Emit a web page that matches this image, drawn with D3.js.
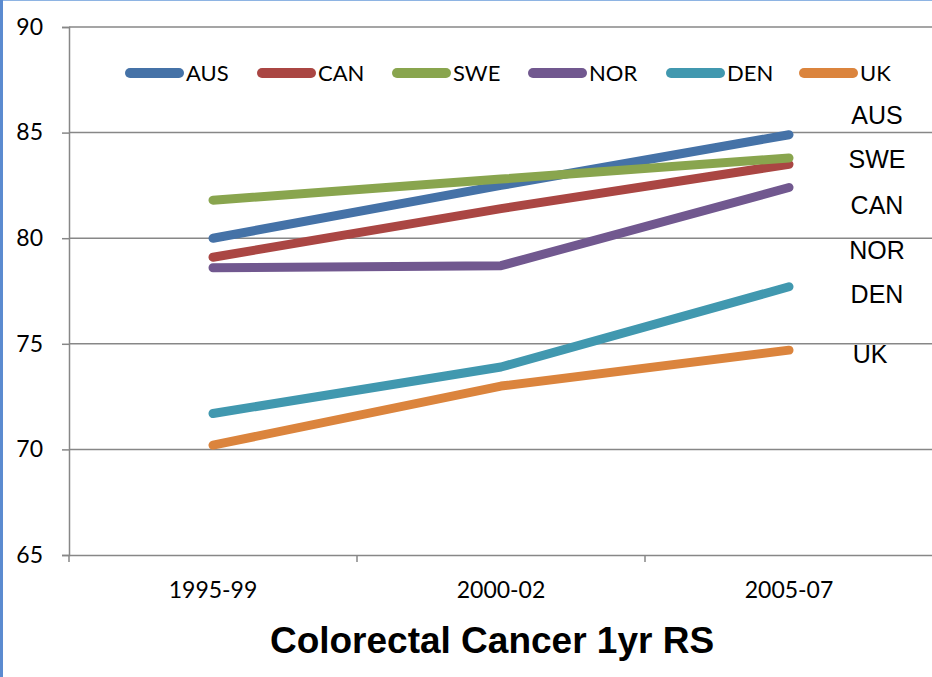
<!DOCTYPE html>
<html>
<head>
<meta charset="utf-8">
<script src="https://cdn.jsdelivr.net/npm/d3@7"></script>
<style>
  html, body { margin: 0; padding: 0; background: #fff; }
  svg { display: block; }
</style>
</head>
<body>
<svg id="chart" width="932" height="677"></svg>
<script>
// Periods on the x axis
const periods = ["1995-99", "2000-02", "2005-07"];

// One-year relative survival (%) per country
const countries = ["AUS", "CAN", "SWE", "NOR", "DEN", "UK"];
const ausValues = [80.0, 82.5, 84.9];
const canValues = [79.1, 81.4, 83.5];
const sweValues = [81.8, 82.8, 83.8];
const norValues = [78.6, 78.7, 82.4];
const denValues = [71.7, 73.9, 77.7];
const ukValues  = [70.2, 73.0, 74.7];

const colors = ["#4572A7", "#AA4643", "#89A54E", "#71588F", "#4198AF", "#DB843D"];

// Text labels listed beside the line ends, top to bottom
const sideLabels = ["AUS", "SWE", "CAN", "NOR", "DEN", "UK"];

const yTicks = [65, 70, 75, 80, 85, 90];
const titleText = "Colorectal Cancer 1yr RS";

const seriesValues = [ausValues, canValues, sweValues, norValues, denValues, ukValues];
const series = countries.map((name, i) => ({
  name, color: colors[i],
  values: periods.map((p, j) => ({ period: p, value: seriesValues[i][j] }))
}));

const svg = d3.select("#chart");
const W = 932, H = 677;
const tickFont = "Lato, 'Open Sans', sans-serif";
const arialFont = "'Liberation Sans', Arial, sans-serif";

// Frame edges
svg.append("rect").attr("x", 0).attr("y", 0).attr("width", W).attr("height", 1).attr("fill", "#8EB4E3");
svg.append("rect").attr("x", 0).attr("y", 0).attr("width", 3).attr("height", H).attr("fill", "#5B8BD0");

const plot = { left: 69, right: 933, top: 27, bottom: 555 };

const x = d3.scaleBand().domain(periods).range([plot.left, plot.right]);
const y = d3.scaleLinear().domain([65, 90]).range([plot.bottom, plot.top]);

const gridColor = "#878787";

// Horizontal gridlines
svg.append("g")
  .selectAll("line")
  .data(yTicks.filter(t => t !== 65))
  .join("line")
  .attr("x1", plot.left).attr("x2", W)
  .attr("y1", d => y(d)).attr("y2", d => y(d))
  .attr("stroke", gridColor).attr("stroke-width", 1.5);

// Y axis
const yAxis = d3.axisLeft(y).tickValues(yTicks).tickSize(7).tickPadding(19).tickFormat(d3.format("d"));
const gy = svg.append("g").attr("transform", `translate(${plot.left},0)`).call(yAxis);
gy.select(".domain").attr("stroke", gridColor).attr("stroke-width", 1.5);
gy.selectAll(".tick line").attr("stroke", gridColor).attr("stroke-width", 1.5);
gy.selectAll(".tick text")
  .attr("font-family", tickFont)
  .attr("font-size", 23).attr("fill", "#000");

// X axis with ticks between categories
const xAxis = d3.axisBottom(x).tickSize(0).tickPadding(27);
const gx = svg.append("g").attr("transform", `translate(0,${plot.bottom})`).call(xAxis);
gx.select(".domain").attr("stroke", gridColor).attr("stroke-width", 1.5);
gx.selectAll(".tick text")
  .attr("font-family", tickFont)
  .attr("font-size", 23).attr("fill", "#000");
gx.append("g")
  .selectAll("line")
  .data(periods.map(p => x(p)).concat([plot.right]))
  .join("line")
  .attr("x1", d => d).attr("x2", d => d)
  .attr("y1", 0).attr("y2", 7)
  .attr("stroke", gridColor).attr("stroke-width", 1.5);

// Series lines
const line = d3.line()
  .x(d => x(d.period) + x.bandwidth() / 2)
  .y(d => y(d.value));

svg.append("g")
  .selectAll("path")
  .data(series)
  .join("path")
  .attr("d", d => line(d.values))
  .attr("fill", "none")
  .attr("stroke", d => d.color)
  .attr("stroke-width", 9)
  .attr("stroke-linecap", "round")
  .attr("stroke-linejoin", "round");

// Legend
const legendX = [125, 257, 392, 528, 666, 799];
const legend = svg.append("g").attr("transform", "translate(0,73)");
const items = legend.selectAll("g").data(series).join("g")
  .attr("transform", (d, i) => `translate(${legendX[i]},0)`);
items.append("line")
  .attr("x1", 5).attr("x2", 54).attr("y1", 0).attr("y2", 0)
  .attr("stroke", d => d.color).attr("stroke-width", 10).attr("stroke-linecap", "round");
items.append("text")
  .attr("x", 61).attr("y", 0).attr("dy", "0.36em")
  .attr("font-family", tickFont)
  .attr("font-size", 22).attr("fill", "#000")
  .text(d => d.name);

// Labels beside the line ends
const sideX = [877, 877, 877, 877, 877, 870];
const sideY = [115, 159, 205, 250, 294, 354];
svg.append("g")
  .selectAll("text")
  .data(sideLabels)
  .join("text")
  .attr("x", (d, i) => sideX[i])
  .attr("y", (d, i) => sideY[i])
  .attr("dy", "0.36em")
  .attr("text-anchor", "middle")
  .attr("font-family", arialFont)
  .attr("font-size", 25).attr("fill", "#000")
  .text(d => d);

// Title
svg.append("text")
  .attr("x", 492).attr("y", 653)
  .attr("text-anchor", "middle")
  .attr("font-family", arialFont)
  .attr("font-weight", "bold")
  .attr("font-size", 37).attr("fill", "#000")
  .text(titleText);
</script>
</body>
</html>
